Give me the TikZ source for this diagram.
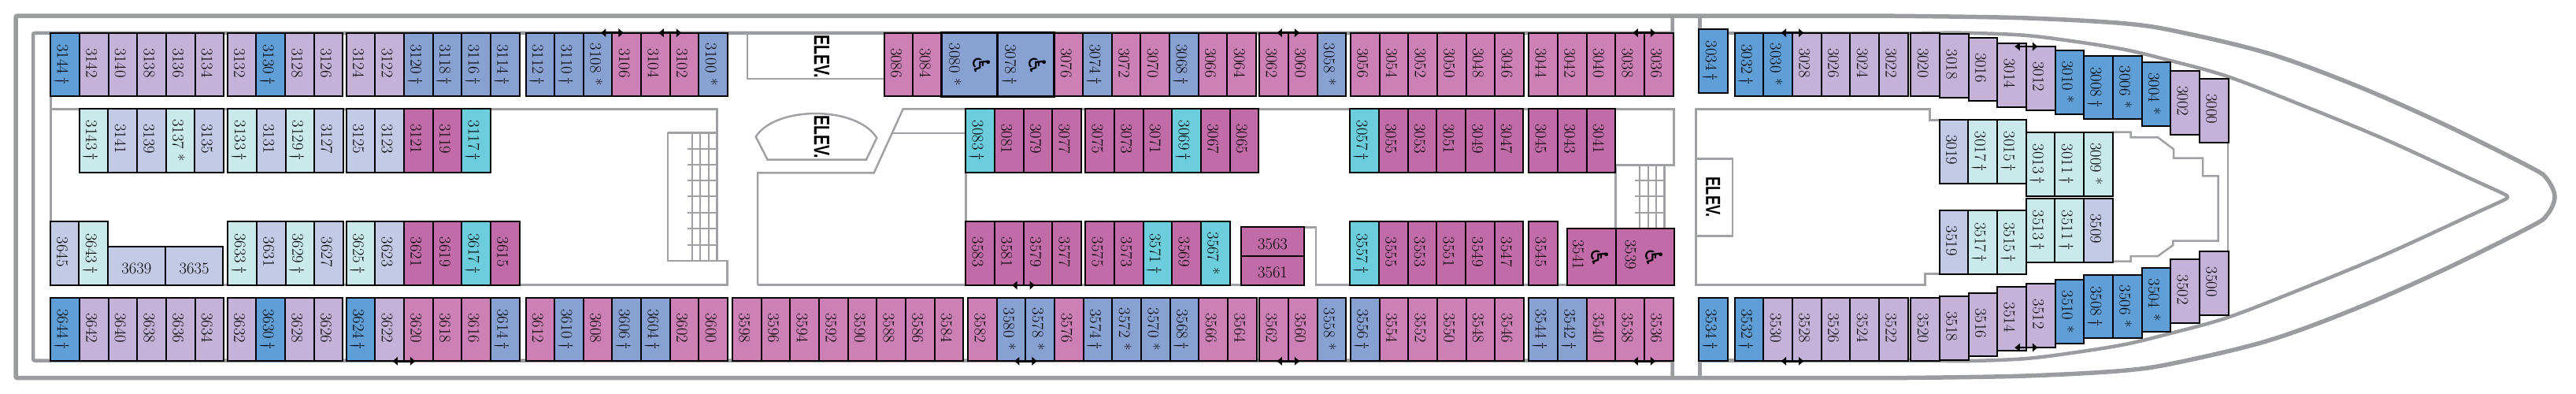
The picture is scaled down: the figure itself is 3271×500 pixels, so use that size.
\documentclass[tikz,border=0pt]{standalone}
\usepackage{fontspec}
\usepackage{amsmath}
\usetikzlibrary{arrows.meta}
\newfontfamily\elevfam{Liberation Sans}
\newfontfamily\iconfam{DejaVu Sans}

\definecolor{cblue}{HTML}{5F9ED6}
\definecolor{clilac}{HTML}{C4B2D8}
\definecolor{clav}{HTML}{C3CAE6}
\definecolor{cteal}{HTML}{C9E9EB}
\definecolor{cperi}{HTML}{88A1D3}
\definecolor{cpink}{HTML}{CC80B5}
\definecolor{cmag}{HTML}{C16BA8}
\definecolor{ccyan}{HTML}{6CCDDC}
\definecolor{wallgrey}{HTML}{9B9CA0}

\newcommand{\cdag}{\hspace{4pt}\textdagger}
\newcommand{\cast}{\hspace{7pt}*}
\newcommand{\cnon}{\hspace*{4pt}}

\tikzset{
    cabinbox/.style={rectangle,draw=black,line width=2pt,outer sep=0pt,inner sep=0pt,
        minimum width=80.6pt,minimum height=36.66pt,text height=19.3pt,text depth=0pt,
        font=\fontsize{20.6}{22}\selectfont},
    cabin/.style={cabinbox,rotate=-90},
    cabinflat/.style={cabinbox,minimum width=#1},
    cabinlabel/.style={rotate=-90,inner sep=0pt,text height=13.3pt,text depth=0pt,
        font=\fontsize{20.6}{22}\selectfont},
    wcicon/.style={rotate=-90,inner sep=0pt,font=\iconfam\fontsize{30}{32}\selectfont},
    elev/.style={rotate=-90,inner sep=0pt,font=\elevfam\bfseries\fontsize{#1}{30}\selectfont},
    hull/.style={draw=wallgrey,line width=5.5pt},
    deck/.style={draw=wallgrey,line width=4.5pt},
    part/.style={draw=wallgrey!95,line width=2.5pt},
    rung/.style={draw=wallgrey!95,line width=2pt},
    door/.style={line width=2.5pt,{Latex[length=7pt,width=12pt]}-{Latex[length=7pt,width=12pt]}}
}

\newcommand{\cabinrow}[3]{
    \foreach \n/\col/\mk [count=\i from 0] in {#3}
        \node[cabin,fill=\col] (c\n) at ({#1+36.66*\i+18.33},#2) {\n\mk};
}

\begin{document}
\begin{tikzpicture}[x=1pt,y=-1pt]
    \useasboundingbox (0,0) rectangle (3271,500);

    % hull
    \draw[hull,rounded corners=2pt] (2400,20.2)--(20,20.2)--(20,479.7)--(2400,479.7);
    \draw[hull] plot[smooth,tension=.55] coordinates {(2400,20.2)(2566,22.7)(2700,30)(2773,41.7)(2882,68.3)(2991,108.3)(3101,156.7)(3212,211.7)(3234,227)(3244,250)(3234,273)(3212,288.3)(3101,343.3)(2991,391.7)(2882,431.7)(2773,458.3)(2700,470)(2566,477.2)(2400,479.7)};
    \draw[deck,rounded corners=2pt] (2123.6,20)--(2123.6,42)--(42,42)--(42,457.5)--(2123.6,457.5)--(2123.6,479);
    \draw[deck] (2158.4,20)--(2158.4,42)--(2440,42);
    \draw[deck] (2158.4,479)--(2158.4,457.5)--(2440,457.5);
    \draw[deck] plot[smooth,tension=.55] coordinates {(2440,42)(2501,41.9)(2573,45)(2639,53.3)(2700,63.3)(2755,76.7)(2827.5,96.7)(2918.5,131.7)(3028,176.7)(3137,226.7)(3177,245)(3184,250)(3177,255)(3137,273.3)(3028,323.3)(2918.5,368.3)(2827.5,403.3)(2755,423.3)(2700,436.7)(2639,446.7)(2573,455)(2501,458)(2440,457.5)};

    % corridor and lobby walls
    \draw[part] (64.5,122)--(64.5,282);
    \draw[part] (64.5,138.3)--(910.3,138.3)--(910.3,331);
    \draw[part] (848.2,168.3)--(910.3,168.3);
    \draw[part] (64,361.7)--(923.6,361.7)--(923.6,331)--(848.2,331)--(848.2,168.3);
    \foreach \x in {878.7,889.2,899.7}
        \draw[rung] (\x,168.3)--(\x,331);
    \foreach \y in {189,209.3,229.3,249.3,270,290,310.7}
        \draw[rung] (872.7,\y)--(910.3,\y);
    \draw[part] (949.2,42)--(949.2,100)--(1122.8,100);
    \draw[part] (974.5,202.5)--(959.7,173.5) .. controls (985,134) and (1088,134) .. (1113.3,175)--(1100,202.5)--cycle;
    \draw[part] (962,361.7)--(962,219.3)--(1109.8,219.3)--(1146.7,138.3)--(1226.3,138.3);
    \draw[part] (1133.3,169)--(1226.3,169);
    \draw[part] (1226.3,218)--(1226.3,282);
    \draw[part] (962,361.7)--(1576,361.7);
    \draw[part] (1656,288.3)--(1671,288.3)--(1671,361.7)--(2126,361.7);
    \draw[part] (1226.3,138.3)--(2125.3,138.3)--(2125.3,209.3)--(2051.7,209.3)--(2051.7,290);
    \draw[part] (2113.7,209.3)--(2113.7,290);
    \foreach \x in {2082,2092.7,2103.2}
        \draw[rung] (\x,209.3)--(\x,290);
    \foreach \y in {229.3,249.3,270}
        \draw[rung] (2076.2,\y)--(2113.7,\y);

    % forward rooms
    \draw[part] (2462.6,152.3)--(2450.6,152.3)--(2450.6,138.3)--(2153.6,138.3)--(2153.6,361.7)--(2444.4,361.7)--(2444.4,347.7)--(2462.6,347.7);
    \draw[part] (2153.6,201.7)--(2199.8,201.7)--(2199.8,299.3)--(2153.6,299.3);
    \draw[part] (2682.5,167.7)--(2705.5,167.7)--(2705.5,174.3)--(2740,174.3)--(2760,189.3)--(2760,200.7)--(2797.2,200.7)--(2797.2,223.3)--(2816.5,223.3)--(2816.5,305.7)--(2759.4,305.7)--(2759.4,311)--(2740,325)--(2705.5,325)--(2705.5,331.7)--(2682.5,331.7);
    \draw[part] (2829,180)--(2829,320);

    % outer rows
    \cabinrow{64.2}{82}{3144/cblue/\cdag,3142/clilac/\cnon,3140/clilac/\cnon,3138/clilac/\cnon,3136/clilac/\cnon,3134/clilac/\cnon}
    \cabinrow{288.7}{82}{3132/clilac/\cnon,3130/cblue/\cdag,3128/clilac/\cnon,3126/clilac/\cnon}
    \cabinrow{439.6}{82}{3124/clilac/\cnon,3122/clilac/\cnon,3120/cperi/\cdag,3118/cperi/\cdag,3116/cperi/\cdag,3114/cperi/\cdag}
    \cabinrow{667.5}{82}{3112/cperi/\cdag,3110/cperi/\cdag,3108/cperi/\cast,3106/cpink/\cnon,3104/cpink/\cnon,3102/cpink/\cnon,3100/cperi/\cast}
    \cabinrow{1122.8}{82}{3086/cpink/\cnon,3084/cpink/\cnon}
    \cabinrow{1338.5}{82}{3076/cpink/\cnon,3074/cperi/\cdag,3072/cpink/\cnon,3070/cpink/\cnon,3068/cperi/\cdag,3066/cpink/\cnon,3064/cpink/\cnon}
    \cabinrow{1599.2}{82}{3062/cpink/\cnon,3060/cpink/\cnon,3058/cperi/\cast}
    \cabinrow{1714.9}{82}{3056/cpink/\cnon,3054/cpink/\cnon,3052/cpink/\cnon,3050/cpink/\cnon,3048/cpink/\cnon,3046/cpink/\cnon}
    \cabinrow{1941.2}{82}{3044/cpink/\cnon,3042/cpink/\cnon,3040/cpink/\cnon,3038/cpink/\cnon,3036/cpink/\cnon}
    \cabinrow{2157.3}{77.3}{3034/cblue/\cdag}
    \cabinrow{2202.7}{82}{3032/cblue/\cdag,3030/cblue/\cast,3028/clilac/\cnon,3026/clilac/\cnon,3024/clilac/\cnon,3022/clilac/\cnon}

    \cabinrow{64.2}{418}{3644/cblue/\cdag,3642/clilac/\cnon,3640/clilac/\cnon,3638/clilac/\cnon,3636/clilac/\cnon,3634/clilac/\cnon}
    \cabinrow{288.7}{418}{3632/clilac/\cnon,3630/cblue/\cdag,3628/clilac/\cnon,3626/clilac/\cnon}
    \cabinrow{439.6}{418}{3624/cblue/\cdag,3622/clilac/\cnon,3620/cpink/\cnon,3618/cpink/\cnon,3616/cpink/\cnon,3614/cperi/\cdag}
    \cabinrow{667.5}{418}{3612/cpink/\cnon,3610/cperi/\cdag,3608/cpink/\cnon,3606/cperi/\cdag,3604/cperi/\cdag,3602/cpink/\cnon,3600/cpink/\cnon}
    \cabinrow{929.9}{418}{3598/cpink/\cnon,3596/cpink/\cnon,3594/cpink/\cnon,3592/cpink/\cnon,3590/cpink/\cnon,3588/cpink/\cnon,3586/cpink/\cnon,3584/cpink/\cnon}
    \cabinrow{1229.1}{418}{3582/cpink/\cnon,3580/cperi/\cast,3578/cperi/\cast,3576/cpink/\cnon,3574/cperi/\cdag,3572/cperi/\cast,3570/cperi/\cast,3568/cperi/\cdag,3566/cpink/\cnon,3564/cpink/\cnon}
    \cabinrow{1599.2}{418}{3562/cpink/\cnon,3560/cpink/\cnon,3558/cperi/\cast}
    \cabinrow{1714.9}{418}{3556/cperi/\cdag,3554/cpink/\cnon,3552/cpink/\cnon,3550/cpink/\cnon,3548/cpink/\cnon,3546/cpink/\cnon}
    \cabinrow{1941.2}{418}{3544/cperi/\cdag,3542/cperi/\cdag,3540/cpink/\cnon,3538/cpink/\cnon,3536/cpink/\cnon}
    \cabinrow{2157.3}{418}{3534/cblue/\cdag}
    \cabinrow{2202.7}{418}{3532/cblue/\cdag,3530/clilac/\cnon,3528/clilac/\cnon,3526/clilac/\cnon,3524/clilac/\cnon,3522/clilac/\cnon}

    % inner rows
    \cabinrow{100.7}{178.3}{3143/cteal/\cdag,3141/clav/\cnon,3139/clav/\cnon,3137/cteal/\cast,3135/clav/\cnon}
    \cabinrow{289.4}{178.3}{3133/cteal/\cdag,3131/clav/\cnon,3129/cteal/\cdag,3127/clav/\cnon}
    \cabinrow{439.6}{178.3}{3125/clav/\cnon,3123/clav/\cnon,3121/cmag/\cnon,3119/cmag/\cnon,3117/ccyan/\cdag}
    \cabinrow{1226.3}{178.3}{3083/ccyan/\cdag,3081/cmag/\cnon,3079/cmag/\cnon,3077/cmag/\cnon}
    \cabinrow{1378.2}{178.3}{3075/cmag/\cnon,3073/cmag/\cnon,3071/cmag/\cnon,3069/ccyan/\cdag,3067/cmag/\cnon,3065/cmag/\cnon}
    \cabinrow{1714.2}{178.3}{3057/ccyan/\cdag,3055/cmag/\cnon,3053/cmag/\cnon,3051/cmag/\cnon,3049/cmag/\cnon,3047/cmag/\cnon}
    \cabinrow{1941.2}{178.3}{3045/cmag/\cnon,3043/cmag/\cnon,3041/cmag/\cnon}
    \cabinrow{2462.6}{192.3}{3019/clav/\cnon,3017/cteal/\cdag,3015/cteal/\cdag}
    \cabinrow{2572.7}{208.3}{3013/cteal/\cdag,3011/cteal/\cdag,3009/cteal/\cast}

    \cabinrow{63.8}{321.7}{3645/clav/\cnon,3643/cteal/\cdag}
    \cabinrow{289.4}{321.7}{3633/cteal/\cdag,3631/clav/\cnon,3629/cteal/\cdag,3627/clav/\cnon}
    \cabinrow{439.6}{321.7}{3625/cteal/\cdag,3623/clav/\cnon,3621/cmag/\cnon,3619/cmag/\cnon,3617/ccyan/\cdag,3615/cmag/\cnon}
    \cabinrow{1226.3}{321.7}{3583/cmag/\cnon,3581/cmag/\cnon,3579/cmag/\cnon,3577/cmag/\cnon}
    \cabinrow{1378.2}{321.7}{3575/cmag/\cnon,3573/cmag/\cnon,3571/ccyan/\cdag,3569/cmag/\cnon,3567/ccyan/\cast}
    \cabinrow{1714.2}{321.7}{3557/ccyan/\cdag,3555/cmag/\cnon,3553/cmag/\cnon,3551/cmag/\cnon,3549/cmag/\cnon,3547/cmag/\cnon}
    \cabinrow{1941.2}{321.7}{3545/cmag/\cnon}
    \cabinrow{2462.6}{307.6}{3519/clav/\cnon,3517/cteal/\cdag,3515/cteal/\cdag}
    \cabinrow{2572.7}{292.2}{3513/cteal/\cdag,3511/cteal/\cdag,3509/clav/\cnon}

    % bow cabins step along the hull
    \foreach \n/\col/\mk/\dy [count=\i from 0] in {3020/clilac/\cnon/0,3018/clilac/\cnon/1.7,3016/clilac/\cnon/6,3014/clilac/\cnon/13.3,3012/clilac/\cnon/17.3,3010/cblue/\cast/22.3,3008/cblue/\cdag/29,3006/cblue/\cast/29,3004/cblue/\cast/37.3,3002/clilac/\cnon/48.3,3000/clilac/\cnon/58.3}
        \node[cabin,fill=\col] (c\n) at ({2426.3+36.66*\i+18.33},{82+\dy}) {\n\mk};
    \foreach \n/\col/\mk/\dy [count=\i from 0] in {3520/clilac/\cnon/0,3518/clilac/\cnon/1.7,3516/clilac/\cnon/6,3514/clilac/\cnon/13.3,3512/clilac/\cnon/17.3,3510/cblue/\cast/22.3,3508/cblue/\cdag/29,3506/cblue/\cast/29,3504/cblue/\cast/37.3,3502/clilac/\cnon/48.3,3500/clilac/\cnon/58.3}
        \node[cabin,fill=\col] (c\n) at ({2426.3+36.66*\i+18.33},{418-\dy}) {\n\mk};

    % wide cabins
    \node[cabin,fill=cperi,line width=3pt,minimum height=71.2pt] (c3080) at (1231,82) {};
    \node[cabin,fill=cperi,line width=3pt,minimum height=71.9pt] (c3078) at (1302.5,82) {};
    \node[cabin,fill=cmag,minimum width=71.7pt,minimum height=61.4pt] (c3541) at (2021,325.85) {};
    \node[cabin,fill=cmag,minimum width=71.7pt,minimum height=74.3pt] (c3539) at (2088.85,325.85) {};
    \node[cabinlabel] (t3080) at (1212,82) {3080\cast};
    \node[cabinlabel] (t3078) at (1283,82) {3078\cdag};
    \node[cabinlabel] (t3541) at (2004,323) {3541};
    \node[cabinlabel] (t3539) at (2070.6,323) {3539};
    \node[wcicon] (w3080) at (1246.6,83) {♿};
    \node[wcicon] (w3078) at (1317.5,83) {♿};
    \node[wcicon] (w3541) at (2031.7,327.3) {♿};
    \node[wcicon] (w3539) at (2100.8,327.3) {♿};

    % flat cabins
    \node[cabinflat=73pt,fill=clav,minimum height=48.4pt] (c3639) at (173.3,337.5) {3639};
    \node[cabinflat=73.6pt,fill=clav,minimum height=48.4pt] (c3635) at (246.6,337.5) {3635};
    \node[cabinflat=80pt,fill=cmag,minimum height=36.7pt] (c3563) at (1616,306.7) {3563};
    \node[cabinflat=80pt,fill=cmag,minimum height=36.7pt] (c3561) at (1616,343.3) {3561};

    % elevators
    \node[elev=28] (elevaft) at (1043.4,72) {\scalebox{.7}[1]{ELEV.}};
    \node[elev=28] (elevmid) at (1043.4,174) {\scalebox{.7}[1]{ELEV.}};
    \node[elev=26] (elevfwd) at (2175.2,250.3) {\scalebox{.7}[1]{ELEV.}};

    % connecting doors
    \foreach \a in {3106,3102,3060,3036,3028,3012}
        \draw[door] ([xshift=-15pt]c\a.south west)--([xshift=15pt]c\a.south west);
    \foreach \a in {3620,3579,3578,3560,3536,3528,3512}
        \draw[door] ([xshift=-15pt]c\a.south east)--([xshift=15pt]c\a.south east);
\end{tikzpicture}
\end{document}
